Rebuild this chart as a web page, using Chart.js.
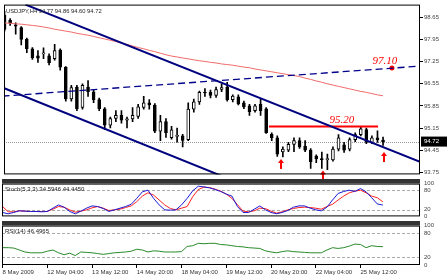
<!DOCTYPE html>
<html>
<head>
<meta charset="utf-8">
<script src="https://cdn.jsdelivr.net/npm/chart.js@4/dist/chart.umd.min.js"></script>
<style>
  body { margin: 0; background: #fff; width: 448px; height: 280px; position: relative; overflow: hidden; }
  canvas { position: absolute; left: 0; }
  #main { top: 0; }
  #stoch { top: 179px; }
  #rsi { top: 221px; }
</style>
</head>
<body>
<canvas id="main" width="448" height="179"></canvas>
<canvas id="stoch" width="448" height="42"></canvas>
<canvas id="rsi" width="448" height="59"></canvas>
<script>
// USDJPY H4 candles, 8 May - 25 May 2009
const open  = [98.73,98.56,98.42,98.33,97.96,97.66,97.44,97.50,97.44,97.35,97.62,97.08,96.07,96.45,95.80,96.45,96.30,96.05,95.76,95.24,95.45,95.55,95.40,95.44,95.52,95.80,95.95,95.88,95.05,95.35,94.84,94.88,94.90,94.78,95.75,95.98,96.28,96.28,96.18,96.37,96.45,96.05,96.14,95.95,95.85,95.70,95.90,95.76,94.95,94.84,94.39,94.45,94.63,94.75,94.58,94.45,94.26,94.17,94.15,94.14,94.48,94.62,94.48,94.78,94.94,95.10,94.69,94.84,94.77];
const high  = [98.85,98.62,98.48,98.36,98.00,97.70,97.60,97.69,97.50,97.80,97.66,97.10,96.50,96.50,96.55,96.65,96.35,96.10,95.80,95.50,95.70,95.70,95.50,95.80,95.90,96.15,96.05,95.92,95.55,95.45,95.20,95.15,94.95,95.95,96.07,96.32,96.40,96.35,96.45,96.55,96.60,96.20,96.20,96.00,95.90,95.90,96.07,95.80,95.00,94.90,94.55,94.70,94.84,94.84,94.75,94.50,94.30,94.39,94.32,94.55,94.94,94.70,94.84,95.00,95.20,95.15,94.90,95.06,94.86];
const low   = [98.22,98.40,98.12,97.78,97.54,97.32,97.23,97.35,97.15,97.30,96.98,96.00,96.00,95.70,95.75,96.15,95.95,95.70,95.10,95.15,95.35,95.30,95.15,95.35,95.45,95.75,95.75,95.00,94.75,94.85,94.80,94.70,94.55,94.75,95.65,95.90,96.15,96.10,96.12,96.30,96.00,95.98,95.88,95.76,95.55,95.65,95.55,94.98,94.75,94.25,94.23,94.40,94.40,94.50,94.40,93.87,94.05,93.87,93.83,94.10,94.42,94.38,94.42,94.72,94.90,94.65,94.65,94.69,94.60];
const close = [98.27,98.47,98.38,97.96,97.66,97.38,97.36,97.52,97.22,97.60,97.08,96.07,96.43,95.76,96.50,96.30,96.05,95.76,95.24,95.45,95.55,95.40,95.44,95.55,95.82,95.95,95.88,95.05,95.35,95.00,95.09,94.92,94.76,95.75,95.98,96.28,96.26,96.18,96.37,96.43,96.05,96.16,95.91,95.82,95.67,95.85,95.70,95.00,94.84,94.32,94.48,94.63,94.75,94.55,94.45,94.08,94.17,94.15,94.18,94.48,94.84,94.45,94.78,94.94,95.12,94.69,94.84,94.77,94.72];
const movingAvg = [98.48,98.47,98.45,98.44,98.42,98.40,98.38,98.35,98.32,98.28,98.25,98.22,98.19,98.15,98.12,98.09,98.05,98.01,97.97,97.93,97.89,97.84,97.80,97.75,97.70,97.66,97.61,97.57,97.52,97.47,97.43,97.40,97.37,97.34,97.31,97.28,97.26,97.23,97.21,97.18,97.16,97.14,97.11,97.08,97.06,97.02,96.99,96.96,96.93,96.90,96.87,96.84,96.81,96.78,96.73,96.69,96.64,96.60,96.55,96.51,96.47,96.43,96.39,96.35,96.31,96.28,96.24,96.20,96.17];
const stochMain = [12,8,12,17,16,15,15,14,15,25,35,28,15,8,16,25,32,30,24,15,20,25,30,37,55,75,80,55,35,20,19,20,35,55,78,92,90,87,82,76,68,62,30,12,12,22,32,20,12,8,12,18,28,32,32,25,20,17,28,50,70,76,80,76,85,75,57,38,34.59];
const stochSignal = [30,14,14,17,16,15,15,15,15,22,30,28,20,13,16,20,26,30,25,18,20,22,27,32,45,62,72,65,50,35,24,20,25,30,60,82,89,88,83,77,68,55,36,16,14,17,25,24,16,10,14,20,24,27,28,27,25,22,30,37,50,62,72,77,80,72,62,57,44.45];
const rsiValues = [44,44,43,38,33,31,31,31,35,38,31,26,30,24,33,32,31,29,27,29,31,32,33,35,40,38,33,36,35,33,33,33,34,47,49,55,54,55,55,52,51,49,47,46,44,43,42,36,33,31,34,36,34,33,32,31,31,31,38,44,42,44,48,53,52,44,49,47,46.5];

const tickLabels = ['8 May 2009','12 May 04:00','13 May 12:00','14 May 20:00','18 May 04:00','19 May 12:00','20 May 20:00','22 May 04:00','25 May 12:00'];
const priceTicks = [93.75,94.45,95.15,95.85,96.55,97.25,97.95,98.65];
const oscTicks = [0,20,80,100];
const oscLevels = [20,80];

// hand-drawn objects, in (bar, price)
const upperChannel = [[3.75,99.06],[74.64,94.08]];
const lowerChannel = [[-0.36,96.43],[40,93.56]];
const risingLine = [[-0.36,96.16],[74.64,97.11]];
const level = [[47.5,95.20],[67.1,95.20]];
const target = [[69.6,97.05]];
const arrows = [[49.6,94.17],[57.2,93.80],[68.2,94.39]];
const notes = [['95.20',58.4,95.30],['97.10',66.1,97.17]];

const xMin = -0.1, xMax = 74.64;
const bars = close.length;
const idx = close.map((_, i) => i);
const pts = (arr) => arr.map((v, i) => ({ x: i, y: v }));
const seg = (arr) => arr.map(p => ({ x: p[0], y: p[1] }));

Chart.defaults.font.family = 'Liberation Sans';
Chart.defaults.font.size = 6;
Chart.defaults.color = '#333';
Chart.defaults.animation = false;

const frame = {
  id: 'frame',
  beforeDraw(c) {
    const ctx = c.ctx;
    ctx.save();
    ctx.fillStyle = '#fff';
    ctx.fillRect(0, 0, c.width, c.height);
    ctx.restore();
  },
  afterDraw(c) {
    const ctx = c.ctx, a = c.chartArea;
    ctx.save();
    ctx.strokeStyle = '#000';
    ctx.lineWidth = 1;
    ctx.strokeRect(a.left + 0.5, a.top + 0.5, a.right - a.left - 1, a.bottom - a.top - 1);
    if (c.canvas.id !== 'main') {
      ctx.fillStyle = '#333';
      ctx.fillRect(a.left, 0, a.right - a.left, a.top);
    }
    ctx.restore();
  }
};

const xScale = (show) => {
  const s = {
    type: 'linear', min: xMin, max: xMax, offset: false, display: show,
    afterBuildTicks: (sc) => { sc.ticks = tickLabels.map((_, i) => ({ value: i * 8 })); },
    ticks: { autoSkip: false, maxRotation: 0, align: 'start', padding: 1, color: '#333',
      callback: (v) => tickLabels[Math.round(v / 8)] || '' },
    grid: { drawOnChartArea: false, drawTicks: true, tickLength: 3, color: '#000' },
    border: { display: false }
  };
  if (show) s.afterFit = (sc) => { sc.height = 13; };
  return s;
};

const yRight = (min, max, ticks, fmt, tickMarks) => ({
  position: 'right', min: min, max: max,
  afterBuildTicks: (s) => { s.ticks = ticks.map(v => ({ value: v })); },
  ticks: { padding: 1, color: '#444', callback: fmt },
  grid: { display: tickMarks, drawOnChartArea: false, drawTicks: true, tickLength: 3, color: '#000' },
  border: { display: false },
  afterFit: (s) => { s.width = 28; }
});

// main price panel
const overlay = {
  id: 'overlay',
  beforeDatasetsDraw(c) {
    const ctx = c.ctx, a = c.chartArea, y = c.scales.y;
    const py = Math.round(y.getPixelForValue(close[bars - 1])) + 0.5;
    ctx.save();
    ctx.strokeStyle = '#999';
    ctx.setLineDash([1, 1]);
    ctx.beginPath(); ctx.moveTo(a.left, py); ctx.lineTo(a.right, py); ctx.stroke();
    ctx.restore();
  },
  afterDatasetsDraw(c) {
    const ctx = c.ctx, a = c.chartArea, x = c.scales.x, y = c.scales.y;
    ctx.save();
    // arrows
    ctx.fillStyle = '#ff0000';
    arrows.forEach(([b, p]) => {
      const ax = Math.round(x.getPixelForValue(b)), ay = y.getPixelForValue(p);
      ctx.beginPath();
      ctx.moveTo(ax, ay); ctx.lineTo(ax - 3, ay + 4); ctx.lineTo(ax + 3, ay + 4); ctx.closePath(); ctx.fill();
      ctx.fillRect(ax - 1, ay + 3, 2, 7);
    });
    // notes
    ctx.font = 'italic 11px "Liberation Serif"';
    ctx.textBaseline = 'alphabetic';
    notes.forEach(([t, b, p]) => ctx.fillText(t, x.getPixelForValue(b), y.getPixelForValue(p)));
    // title
    ctx.fillStyle = '#222';
    ctx.font = '5.8px "Liberation Sans"';
    ctx.textBaseline = 'top';
    ctx.fillText('USDJPY,H4 94.77 94.86 94.60 94.72', a.left + 2, a.top + 4);
    // last price box
    const py = y.getPixelForValue(close[bars - 1]);
    ctx.fillStyle = '#000';
    ctx.fillRect(a.right + 1, py - 5, c.width - a.right - 2, 10);
    ctx.fillStyle = '#fff';
    ctx.textBaseline = 'middle';
    ctx.font = '6px "Liberation Sans"';
    ctx.fillText(close[bars - 1].toFixed(2), a.right + 4, py);
    ctx.restore();
  }
};

const candleColor = (ctx) => close[ctx.dataIndex] >= open[ctx.dataIndex] ? '#fff' : '#000';

new Chart(document.getElementById('main'), {
  type: 'bar',
  data: {
    datasets: [
      { type: 'line', data: seg(upperChannel), borderColor: '#00007f', borderWidth: 2, pointRadius: 0, order: 0 },
      { type: 'line', data: seg(lowerChannel), borderColor: '#00007f', borderWidth: 2, pointRadius: 0, order: 0 },
      { type: 'line', data: seg(risingLine), borderColor: '#00008b', borderWidth: 1.3, borderDash: [7, 4], pointRadius: 0, order: 0 },
      { type: 'line', data: seg(level), borderColor: '#ff0000', borderWidth: 2, pointRadius: 0, order: 0 },
      { type: 'line', data: seg(target), showLine: false, pointRadius: 2.5, pointBackgroundColor: '#ff0000', pointBorderWidth: 0, order: 0 },
      { type: 'line', data: pts(movingAvg), borderColor: '#f26b6b', borderWidth: 1, pointRadius: 0, order: 1 },
      { data: idx.map(i => ({ x: i, y: [open[i], close[i]] })), grouped: false, barThickness: 3, minBarLength: 1,
        backgroundColor: candleColor, borderColor: '#000', borderWidth: 1, borderSkipped: false, order: 2 },
      { data: idx.map(i => ({ x: i, y: [low[i], high[i]] })), grouped: false, barThickness: 1,
        backgroundColor: '#000', borderWidth: 0, order: 3 }
    ]
  },
  options: {
    responsive: false,
    layout: { padding: { left: 2, top: 2, bottom: 1, right: 0 } },
    plugins: { legend: { display: false }, tooltip: { enabled: false } },
    scales: {
      x: xScale(false),
      y: yRight(93.68, 99.06, priceTicks, (v) => v.toFixed(2), true)
    }
  },
  plugins: [frame, overlay]
});

// oscillator panels
const oscOverlay = (label) => ({
  id: 'oscOverlay',
  beforeDatasetsDraw(c) {
    const ctx = c.ctx, a = c.chartArea, y = c.scales.y;
    ctx.save();
    ctx.strokeStyle = '#aaa';
    ctx.setLineDash([3, 2]);
    oscLevels.forEach(v => {
      const py = Math.round(y.getPixelForValue(v)) + 0.5;
      ctx.beginPath(); ctx.moveTo(a.left, py); ctx.lineTo(a.right, py); ctx.stroke();
    });
    ctx.restore();
  },
  afterDatasetsDraw(c) {
    const ctx = c.ctx, a = c.chartArea;
    ctx.save();
    ctx.fillStyle = '#222';
    ctx.font = '6px "Liberation Sans"';
    ctx.textBaseline = 'top';
    ctx.fillText(label, a.left + 3, a.top + 3);
    ctx.restore();
  }
});

new Chart(document.getElementById('stoch'), {
  type: 'line',
  data: {
    datasets: [
      { data: pts(stochMain), borderColor: '#1a1ad6', borderWidth: 1, pointRadius: 0 },
      { data: pts(stochSignal), borderColor: '#ff2222', borderWidth: 1, pointRadius: 0 }
    ]
  },
  options: {
    responsive: false,
    layout: { padding: { left: 2, top: 1, bottom: 0, right: 0 } },
    plugins: { legend: { display: false }, tooltip: { enabled: false } },
    scales: {
      x: xScale(false),
      y: yRight(0, 100, oscTicks, (v) => String(v), false)
    }
  },
  plugins: [frame, oscOverlay('Stoch(5,3,3) 34.5946 44.4450')]
});

new Chart(document.getElementById('rsi'), {
  type: 'line',
  data: {
    datasets: [
      { data: pts(rsiValues), borderColor: '#2a8a2a', borderWidth: 1, pointRadius: 0 }
    ]
  },
  options: {
    responsive: false,
    layout: { padding: { left: 2, top: 1, bottom: 2, right: 0 } },
    plugins: { legend: { display: false }, tooltip: { enabled: false } },
    scales: {
      x: xScale(true),
      y: yRight(0, 100, oscTicks, (v) => String(v), false)
    }
  },
  plugins: [frame, oscOverlay('RSI(14) 46.4965')]
});
</script>
</body>
</html>
